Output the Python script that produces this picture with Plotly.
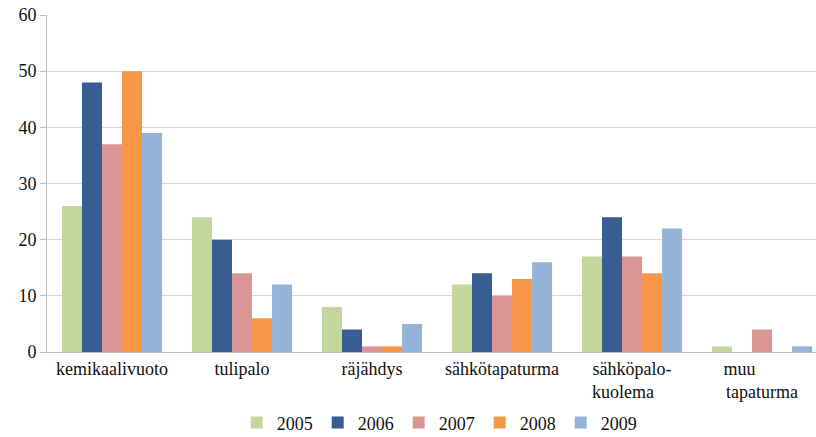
import plotly.graph_objects as go

categories = ["kemikaalivuoto", "tulipalo", "räjähdys", "sähkötapaturma",
              "sähköpalo-kuolema", "muu tapaturma"]
tick_labels = ["kemikaalivuoto", "tulipalo", "räjähdys", "sähkötapaturma",
               "sähköpalo-<br>kuolema\u00a0\u00a0\u00a0\u00a0",
               "muu\u00a0\u00a0\u00a0\u00a0\u00a0\u00a0\u00a0\u00a0\u00a0\u00a0<br>tapaturma"]
years = ["2005", "2006", "2007", "2008", "2009"]
values = {
    "2005": [26, 24, 8, 12, 17, 1],
    "2006": [48, 20, 4, 14, 24, 0],
    "2007": [37, 14, 1, 10, 17, 4],
    "2008": [50, 6, 1, 13, 14, 0],
    "2009": [39, 12, 5, 16, 22, 1],
}
colors = {
    "2005": "#c3d69b",
    "2006": "#375d92",
    "2007": "#d99694",
    "2008": "#f79646",
    "2009": "#95b3d7",
}
y_ticks = [0, 10, 20, 30, 40, 50, 60]

fig = go.Figure()
for yr in years:
    fig.add_trace(go.Bar(x=categories, y=values[yr], name=yr,
                         marker=dict(color=colors[yr], line=dict(width=0))))

font = "Liberation Serif, Times New Roman, serif"
fig.update_layout(
    width=816, height=437,
    margin=dict(l=47, r=0, t=15, b=85, autoexpand=False),
    paper_bgcolor="white", plot_bgcolor="white",
    barmode="group", bargap=0.23, bargroupgap=0,
    font=dict(family=font, size=18, color="#111111"),
    legend=dict(orientation="h", x=0.51, xanchor="center", y=-0.21, yanchor="middle",
                font=dict(family=font, size=18), itemwidth=30, traceorder="normal"),
    showlegend=True,
)
fig.update_xaxes(
    type="category", range=[-0.5, 5.415], automargin=False,
    tickvals=categories, ticktext=tick_labels,
    showline=True, linecolor="#bfbfbf", linewidth=1,
    ticks="", tickfont=dict(family=font, size=18),
)
fig.update_yaxes(
    range=[0, 60], tickvals=y_ticks, automargin=False,
    showgrid=True, gridcolor="#d9d9d9", gridwidth=1,
    showline=True, linecolor="#bfbfbf", linewidth=1,
    ticks="outside", ticklen=6, tickcolor="#bfbfbf",
    tickfont=dict(family=font, size=18), zeroline=False,
)
fig.write_html(
    "out.html", config={"displayModeBar": False},
    post_script=("document.documentElement.style.margin='0px';"
                 "document.body.style.margin='0px';"
                 "document.body.style.overflow='hidden';"
                 "document.documentElement.style.overflow='hidden';"))
